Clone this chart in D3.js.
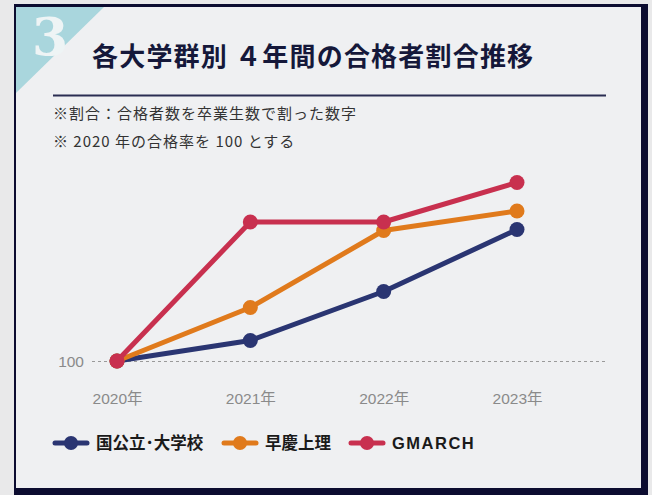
<!DOCTYPE html>
<html lang="ja">
<head>
  <meta charset="UTF-8">
  <title>各大学群別 4年間の合格者割合推移</title>
  <style>
      html, body {
          margin: 0;
          padding: 0;
          background: #e9e9ea;
      }
      .jp { font-family: "Noto Sans CJK JP", "Noto Sans", sans-serif; }
      .tick-label {
          font-family: "Liberation Sans", "Noto Sans CJK JP", sans-serif;
          font-size: 15.5px;
          fill: #8a8a8a;
      }
      .legend-text {
          font-family: "Liberation Sans", "Noto Sans CJK JP", sans-serif;
          font-size: 16.5px;
          font-weight: 700;
          fill: #1a1a1a;
      }
  </style>
</head>
<body>
<div id="chart"></div>
<script src="https://d3js.org/d3.v7.min.js"></script>
<script>
  const years = ["2020年", "2021年", "2022年", "2023年"];
  const seriesNames = ["国公立･大学校", "早慶上理", "GMARCH"];
  const kokkoritsu = [100, 104.1, 113.9, 126.3];
  const soukei = [100, 110.7, 126.1, 130.0];
  const gmarch = [100, 127.8, 127.8, 135.7];
  const yTicks = [100];
  const colors = ["#2a3572", "#e07a1c", "#c8304f"];

  const W = 652, H = 495;

  const svg = d3.select("#chart").append("svg")
    .attr("width", W)
    .attr("height", H);

  // card frame (dark border, heavier on right/bottom)
  svg.append("rect")
    .attr("x", 14).attr("y", 4)
    .attr("width", 634).attr("height", 495)
    .attr("fill", "#0c0c30");
  svg.append("rect")
    .attr("x", 16).attr("y", 7)
    .attr("width", 625).attr("height", 481)
    .attr("fill", "#eff0f2");

  // teal corner with number
  svg.append("path")
    .attr("d", "M16,7 L104,7 L16,93 Z")
    .attr("fill", "#a9d6dd");
  svg.append("text")
    .attr("x", 50).attr("y", 55)
    .attr("text-anchor", "middle")
    .style("font-family", "'DejaVu Serif', 'Liberation Serif', serif")
    .style("font-size", "52px")
    .style("font-weight", "700")
    .style("fill", "#eef4f5")
    .text("3");

  // title
  svg.append("text")
    .attr("class", "jp")
    .attr("x", 92).attr("y", 66)
    .style("font-size", "26px")
    .style("font-weight", "700")
    .style("letter-spacing", "1.2px")
    .style("fill", "#15183a")
    .text("各大学群別 ４年間の合格者割合推移");

  svg.append("line")
    .attr("x1", 53).attr("x2", 606)
    .attr("y1", 95.5).attr("y2", 95.5)
    .attr("stroke", "#2a2d52")
    .attr("stroke-width", 2);

  const notes = ["※割合：合格者数を卒業生数で割った数字", "※ 2020 年の合格率を 100 とする"];
  svg.selectAll(".note")
    .data(notes)
    .enter().append("text")
    .attr("class", "note jp")
    .attr("x", 53)
    .attr("y", (d, i) => 119 + i * 28)
    .style("font-size", "15px")
    .style("letter-spacing", "1px")
    .style("fill", "#333")
    .text(d => d);

  // scales
  const x = d3.scalePoint()
    .domain(years)
    .range([117, 517]);

  const y = d3.scaleLinear()
    .domain([100, 140])
    .range([361, 161]);

  // 100 gridline (dashed)
  svg.append("g")
    .attr("transform", "translate(92,0)")
    .call(d3.axisLeft(y).tickValues(yTicks).tickSize(-514).tickPadding(6))
    .call(g => g.select(".domain").remove())
    .call(g => g.selectAll(".tick line")
      .attr("stroke", "#9a9a9a")
      .attr("stroke-dasharray", "3,3"))
    .call(g => g.selectAll(".tick text")
      .attr("class", "tick-label")
      .attr("x", -8)
      .attr("dy", "0.35em"));

  // x axis labels
  svg.append("g")
    .attr("transform", "translate(0,399)")
    .call(d3.axisBottom(x).tickSize(0).tickPadding(0))
    .call(g => g.select(".domain").remove())
    .call(g => g.selectAll(".tick text")
      .attr("class", "tick-label")
      .attr("dy", "0.35em"));

  const series = [kokkoritsu, soukei, gmarch];

  const line = d3.line()
    .x((d, i) => x(years[i]))
    .y(d => y(d));

  series.forEach((vals, s) => {
    const g = svg.append("g");
    g.append("path")
      .datum(vals)
      .attr("fill", "none")
      .attr("stroke", colors[s])
      .attr("stroke-width", 5)
      .attr("stroke-linejoin", "round")
      .attr("d", line);
    g.selectAll("circle")
      .data(vals)
      .enter().append("circle")
      .attr("cx", (d, i) => x(years[i]))
      .attr("cy", d => y(d))
      .attr("r", 7.5)
      .attr("fill", colors[s]);
  });

  // legend
  const legendX = [55, 224, 351];
  const legend = svg.append("g")
    .attr("transform", "translate(0,443)");
  seriesNames.forEach((name, s) => {
    const lg = legend.append("g").attr("transform", `translate(${legendX[s]},0)`);
    lg.append("line")
      .attr("x1", 0).attr("x2", 32)
      .attr("stroke", colors[s])
      .attr("stroke-width", 5)
      .attr("stroke-linecap", "round");
    lg.append("circle")
      .attr("cx", 16).attr("r", 7)
      .attr("fill", colors[s]);
    lg.append("text")
      .attr("class", "legend-text")
      .attr("x", 41)
      .attr("dy", "0.36em")
      .style("letter-spacing", /^[A-Z]+$/.test(name) ? "1.5px" : "0px")
      .text(name);
  });
</script>
</body>
</html>
